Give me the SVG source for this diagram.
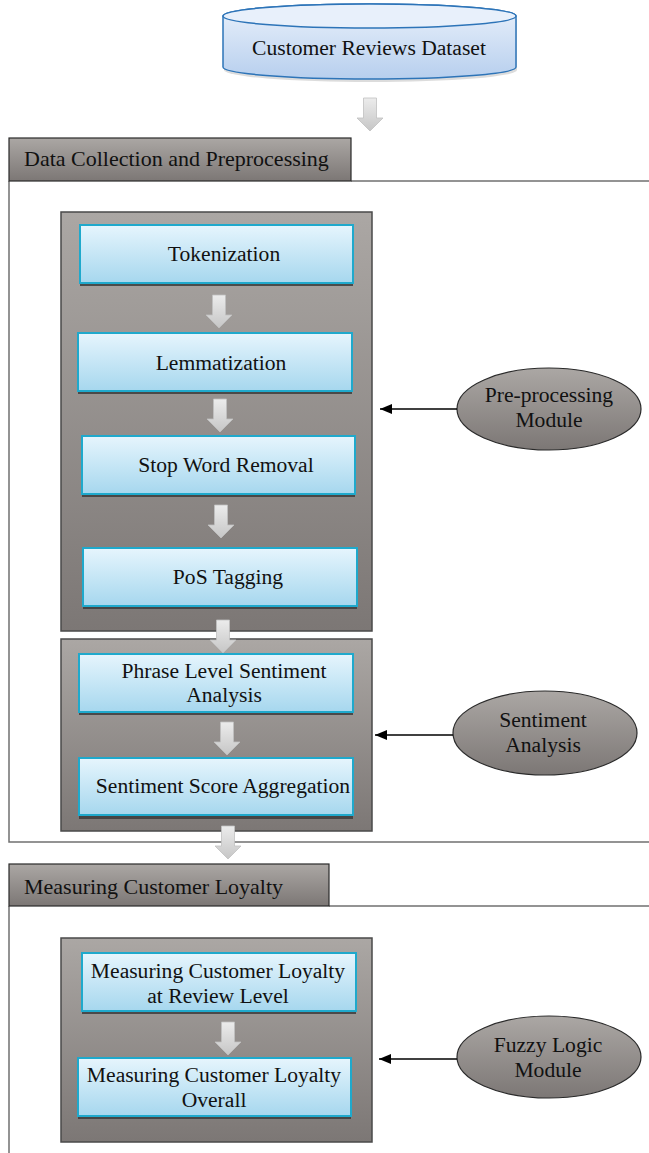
<svg xmlns="http://www.w3.org/2000/svg" xmlns:xlink="http://www.w3.org/1999/xlink" width="649" height="1153" viewBox="0 0 649 1153">
<defs>
<linearGradient id="gBlue" x1="0" y1="0" x2="0" y2="1"><stop offset="0" stop-color="#e6f5fd"/><stop offset="1" stop-color="#a6d7ee"/></linearGradient>
<linearGradient id="gCyl" x1="0" y1="0" x2="0" y2="1"><stop offset="0" stop-color="#eaf1fb"/><stop offset="1" stop-color="#b7cfee"/></linearGradient>
<linearGradient id="gGray" x1="0" y1="0" x2="0" y2="1"><stop offset="0" stop-color="#aba7a4"/><stop offset="1" stop-color="#7c7775"/></linearGradient>
<linearGradient id="gArrow" x1="0" y1="0" x2="0" y2="1"><stop offset="0" stop-color="#ececec"/><stop offset="1" stop-color="#c6c6c6"/></linearGradient>
<path id="blk" d="M-6.5,0 h13 v20 h6.5 l-13,13 l-13,-13 h6.5 z"/>
<marker id="ah" viewBox="0 0 12 10" refX="12" refY="5" markerWidth="12" markerHeight="10" markerUnits="userSpaceOnUse" orient="auto"><path d="M0,0 L12,5 L0,10 z" fill="#000"/></marker>
</defs>
<style>
.t{font-family:"Liberation Serif","Times New Roman",serif;font-size:21.6px;fill:#111;text-anchor:middle}
.th{font-family:"Liberation Serif","Times New Roman",serif;font-size:22px;fill:#111}
.box{fill:url(#gBlue);stroke:#1fa9cc;stroke-width:2}
.shd{fill:#3c3c3c;opacity:0.85}
.panel{fill:url(#gGray);stroke:#4a4a4a;stroke-width:1.5}
.hdr{fill:url(#gGray);stroke:#2a2a2a;stroke-width:1.2}
.ell{fill:url(#gGray);stroke:#2a2a2a;stroke-width:1.2}
.frame{fill:none;stroke:#707070;stroke-width:1.5}
.barr{fill:url(#gArrow);stroke:#c0c0c0;stroke-width:0.8}
.conn{stroke:#000;stroke-width:1.3;fill:none}
</style>

<g id="frames">
<path class="frame" d="M351,181 H649 M9,181 V842 H649"/>
<path class="frame" d="M329,906 H649 M9,906 V1153"/>
</g>

<g id="dataset">
<path d="M224,19 v51 a146.5,12 0 0 0 293,0 v-51 z" fill="#9a9a9a" opacity="0.35"/>
<path d="M223,16 v51 a146.5,12 0 0 0 293,0 v-51 a146.5,12 0 0 0 -293,0 z" fill="url(#gCyl)" stroke="#2d74b8" stroke-width="1.5"/>
<ellipse cx="369.5" cy="16" rx="146.5" ry="12" fill="#e8f0fb" stroke="#2d74b8" stroke-width="1.5"/>
<text class="t" x="369" y="55">Customer Reviews Dataset</text>
</g>

<g id="header1">
<rect class="hdr" x="9" y="138" width="342" height="43"/>
<text class="th" x="24" y="166">Data Collection and Preprocessing</text>
</g>

<g id="panel-preprocessing">
<rect class="panel" x="61" y="212" width="311" height="419"/>
</g>
<g id="tokenization">
<rect class="shd" x="80" y="228" width="273" height="58"/>
<rect class="box" x="80" y="225" width="273" height="58"/>
<text class="t" x="224" y="261">Tokenization</text>
</g>
<g id="lemmatization">
<rect class="shd" x="78" y="336" width="274" height="58"/>
<rect class="box" x="78" y="333" width="274" height="58"/>
<text class="t" x="221" y="370">Lemmatization</text>
</g>
<g id="stopword">
<rect class="shd" x="82" y="439" width="273" height="58"/>
<rect class="box" x="82" y="436" width="273" height="58"/>
<text class="t" x="226" y="472">Stop Word Removal</text>
</g>
<g id="postagging">
<rect class="shd" x="83" y="551" width="274" height="58"/>
<rect class="box" x="83" y="548" width="274" height="58"/>
<text class="t" x="228" y="584">PoS Tagging</text>
</g>

<g id="panel-sentiment">
<rect class="panel" x="61" y="639" width="311" height="192"/>
</g>
<g id="phrase">
<rect class="shd" x="79" y="657" width="274" height="58"/>
<rect class="box" x="79" y="654" width="274" height="58"/>
<text class="t" x="224" y="678">Phrase Level Sentiment</text>
<text class="t" x="224" y="702">Analysis</text>
</g>
<g id="aggregation">
<rect class="shd" x="79" y="761" width="274" height="58"/>
<rect class="box" x="79" y="758" width="274" height="57"/>
<text class="t" x="223" y="793">Sentiment Score Aggregation</text>
</g>

<g id="header2">
<rect class="hdr" x="9" y="864" width="320" height="42"/>
<text class="th" x="24" y="894">Measuring Customer Loyalty</text>
</g>

<g id="panel-loyalty">
<rect class="panel" x="61" y="938" width="311" height="204"/>
</g>
<g id="review-level">
<rect class="shd" x="82" y="956" width="274" height="58"/>
<rect class="box" x="82" y="953" width="274" height="58"/>
<text class="t" x="218" y="978">Measuring Customer Loyalty</text>
<text class="t" x="218" y="1003">at Review Level</text>
</g>
<g id="overall">
<rect class="shd" x="78" y="1061" width="273" height="58"/>
<rect class="box" x="78" y="1058" width="273" height="58"/>
<text class="t" x="214" y="1082">Measuring Customer Loyalty</text>
<text class="t" x="214" y="1107">Overall</text>
</g>

<g id="ellipse-preprocessing">
<ellipse class="ell" cx="549" cy="409" rx="92" ry="41"/>
<text class="t" x="549" y="402">Pre-processing</text>
<text class="t" x="549" y="427">Module</text>
</g>
<g id="ellipse-sentiment">
<ellipse class="ell" cx="545" cy="733" rx="92" ry="42"/>
<text class="t" x="543" y="727">Sentiment</text>
<text class="t" x="543" y="752">Analysis</text>
</g>
<g id="ellipse-fuzzy">
<ellipse class="ell" cx="549" cy="1057" rx="92" ry="41"/>
<text class="t" x="548" y="1052">Fuzzy Logic</text>
<text class="t" x="548" y="1077">Module</text>
</g>

<g id="connectors">
<use href="#blk" class="barr" x="370" y="98"/>
<use href="#blk" class="barr" x="219" y="295"/>
<use href="#blk" class="barr" x="220" y="399"/>
<use href="#blk" class="barr" x="221" y="505"/>
<use href="#blk" class="barr" x="223" y="620"/>
<use href="#blk" class="barr" x="227" y="722"/>
<use href="#blk" class="barr" x="228" y="826"/>
<use href="#blk" class="barr" x="228" y="1022"/>
<line class="conn" x1="457" y1="409" x2="380" y2="409" marker-end="url(#ah)"/>
<line class="conn" x1="453" y1="735" x2="375" y2="735" marker-end="url(#ah)"/>
<line class="conn" x1="457" y1="1059" x2="379" y2="1059" marker-end="url(#ah)"/>
</g>
</svg>
